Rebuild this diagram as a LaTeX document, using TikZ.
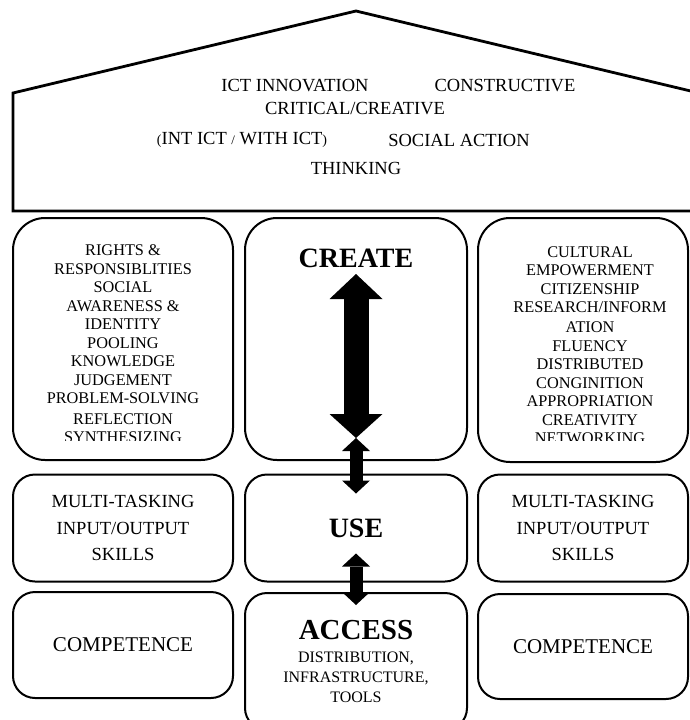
\documentclass[tikz,border=0pt]{standalone}
\usepackage{fontspec}
\setmainfont{Liberation Serif}
\usetikzlibrary{arrows.meta,calc,positioning}
\newcommand{\fsz}[2]{\fontsize{#1}{#2}\selectfont}

\begin{document}
\begin{tikzpicture}[x=1pt,y=-1pt,
    roofline/.style={line width=2.8pt,line join=miter},
    tallbox/.style={draw,line width=2pt,rounded corners=32pt,minimum height=242pt,inner sep=0pt},
    lowbox/.style={draw,line width=2pt,rounded corners=22pt,inner sep=0pt,align=center},
    rooftext/.style={inner sep=0pt,font=\fsz{18.5}{22}},
    listtext/.style={inner sep=0pt,align=center,font=\fsz{16.3}{18.5}},
    skilltext/.style={font=\fsz{18.5}{26.5}},
    headtext/.style={inner sep=0pt,font=\fsz{28}{30}\bfseries},
    bigarrow/.style={line width=25pt,arrows={Triangle[length=25pt,width=53pt,line width=0pt]-Triangle[length=24pt,width=53pt,line width=0pt]}},
    smallarrow/.style={line width=13pt,arrows={Triangle[length=13pt,width=28pt,line width=0pt]-Triangle[length=13pt,width=28pt,line width=0pt]}}]
  \path[use as bounding box,fill=white] (0,0) rectangle (689,720);

  % roof
  \draw[roofline] (13,211) -- (13,93) -- (356,11) -- (699,93) -- (699,211) -- cycle;
  \node[rooftext] (innov) at (295,86) {ICT INNOVATION};
  \node[rooftext] (constr) at (505,86) {CONSTRUCTIVE};
  \node[rooftext] (critic) at (355,109) {CRITICAL/CREATIVE};
  \node[rooftext] (withict) at (242,140) {{\fsz{14}{16}(}INT ICT {\fsz{13}{16}/} WITH ICT{\fsz{14}{16})}};
  \node[rooftext] (social) at (459,140) {SOCIAL ACTION};
  \node[rooftext] (think) at (356,168) {THINKING};

  % centre column
  \node[tallbox,minimum width=222pt] (create) at (356,339) {};
  \node[lowbox,minimum width=222pt,minimum height=107pt,font=\fsz{28}{30}\bfseries] (useb) at (356,528) {USE};
  \node[lowbox,minimum width=222pt,minimum height=137pt] (access) at (356,661.5) {};
  \node[headtext] (createtitle) at (356,258) {CREATE};
  \node[headtext,font=\fsz{29}{30}\bfseries] (accesstitle) at (356,630) {ACCESS};
  \node[listtext,font=\fsz{16}{20}] (tools) at (356,677) {DISTRIBUTION,\\INFRASTRUCTURE,\\TOOLS};

  % side columns
  \node[tallbox,minimum width=220pt,left=10pt of create] (rightsL) {};
  \node[tallbox,minimum width=210pt,minimum height=244pt,right=9pt of create,yshift=-1pt] (cultureR) {};
  \node[lowbox,skilltext,minimum width=220pt,minimum height=107pt,left=10pt of useb] (skillsL) {MULTI-TASKING\\INPUT/OUTPUT\\SKILLS};
  \node[lowbox,skilltext,minimum width=210pt,minimum height=107pt,right=9pt of useb] (skillsR) {MULTI-TASKING\\INPUT/OUTPUT\\SKILLS};
  \node[lowbox,minimum width=220pt,minimum height=106pt,font=\fsz{21}{24}] (compL) at (123,645) {COMPETENCE};
  \node[lowbox,minimum width=210pt,minimum height=105pt,font=\fsz{21}{24}] (compR) at (583,646.5) {COMPETENCE};

  % lists, cut at the foot of the text frame
  \begin{scope}
    \clip (13,218) rectangle (689,440);
    \node[listtext,anchor=north] (rightslist) at (123,244.5) {RIGHTS \&\\RESPONSIBLITIES\\SOCIAL\\AWARENESS \&\\IDENTITY\\POOLING\\KNOWLEDGE\\JUDGEMENT\\PROBLEM-SOLVING\\[2pt]REFLECTION\\SYNTHESIZING};
    \node[listtext,anchor=north] (culturelist) at (590,246.5) {CULTURAL\\EMPOWERMENT\\CITIZENSHIP\\RESEARCH/INFORM\\[1.5pt]ATION\\FLUENCY\\DISTRIBUTED\\CONGINITION\\APPROPRIATION\\CREATIVITY\\NETWORKING};
  \end{scope}

  % arrows
  \coordinate (createtop) at ($(create.north)+(0,57)$);
  \coordinate (createfoot) at ($(create.south)+(0,-23)$);
  \draw[bigarrow] (createtop) -- (createfoot);
  \draw[smallarrow] (createfoot) -- ($(useb.north)+(0,20)$);
  \draw[smallarrow] ($(useb.south)+(0,-29)$) -- ($(access.north)+(0,13)$);
\end{tikzpicture}
\end{document}
